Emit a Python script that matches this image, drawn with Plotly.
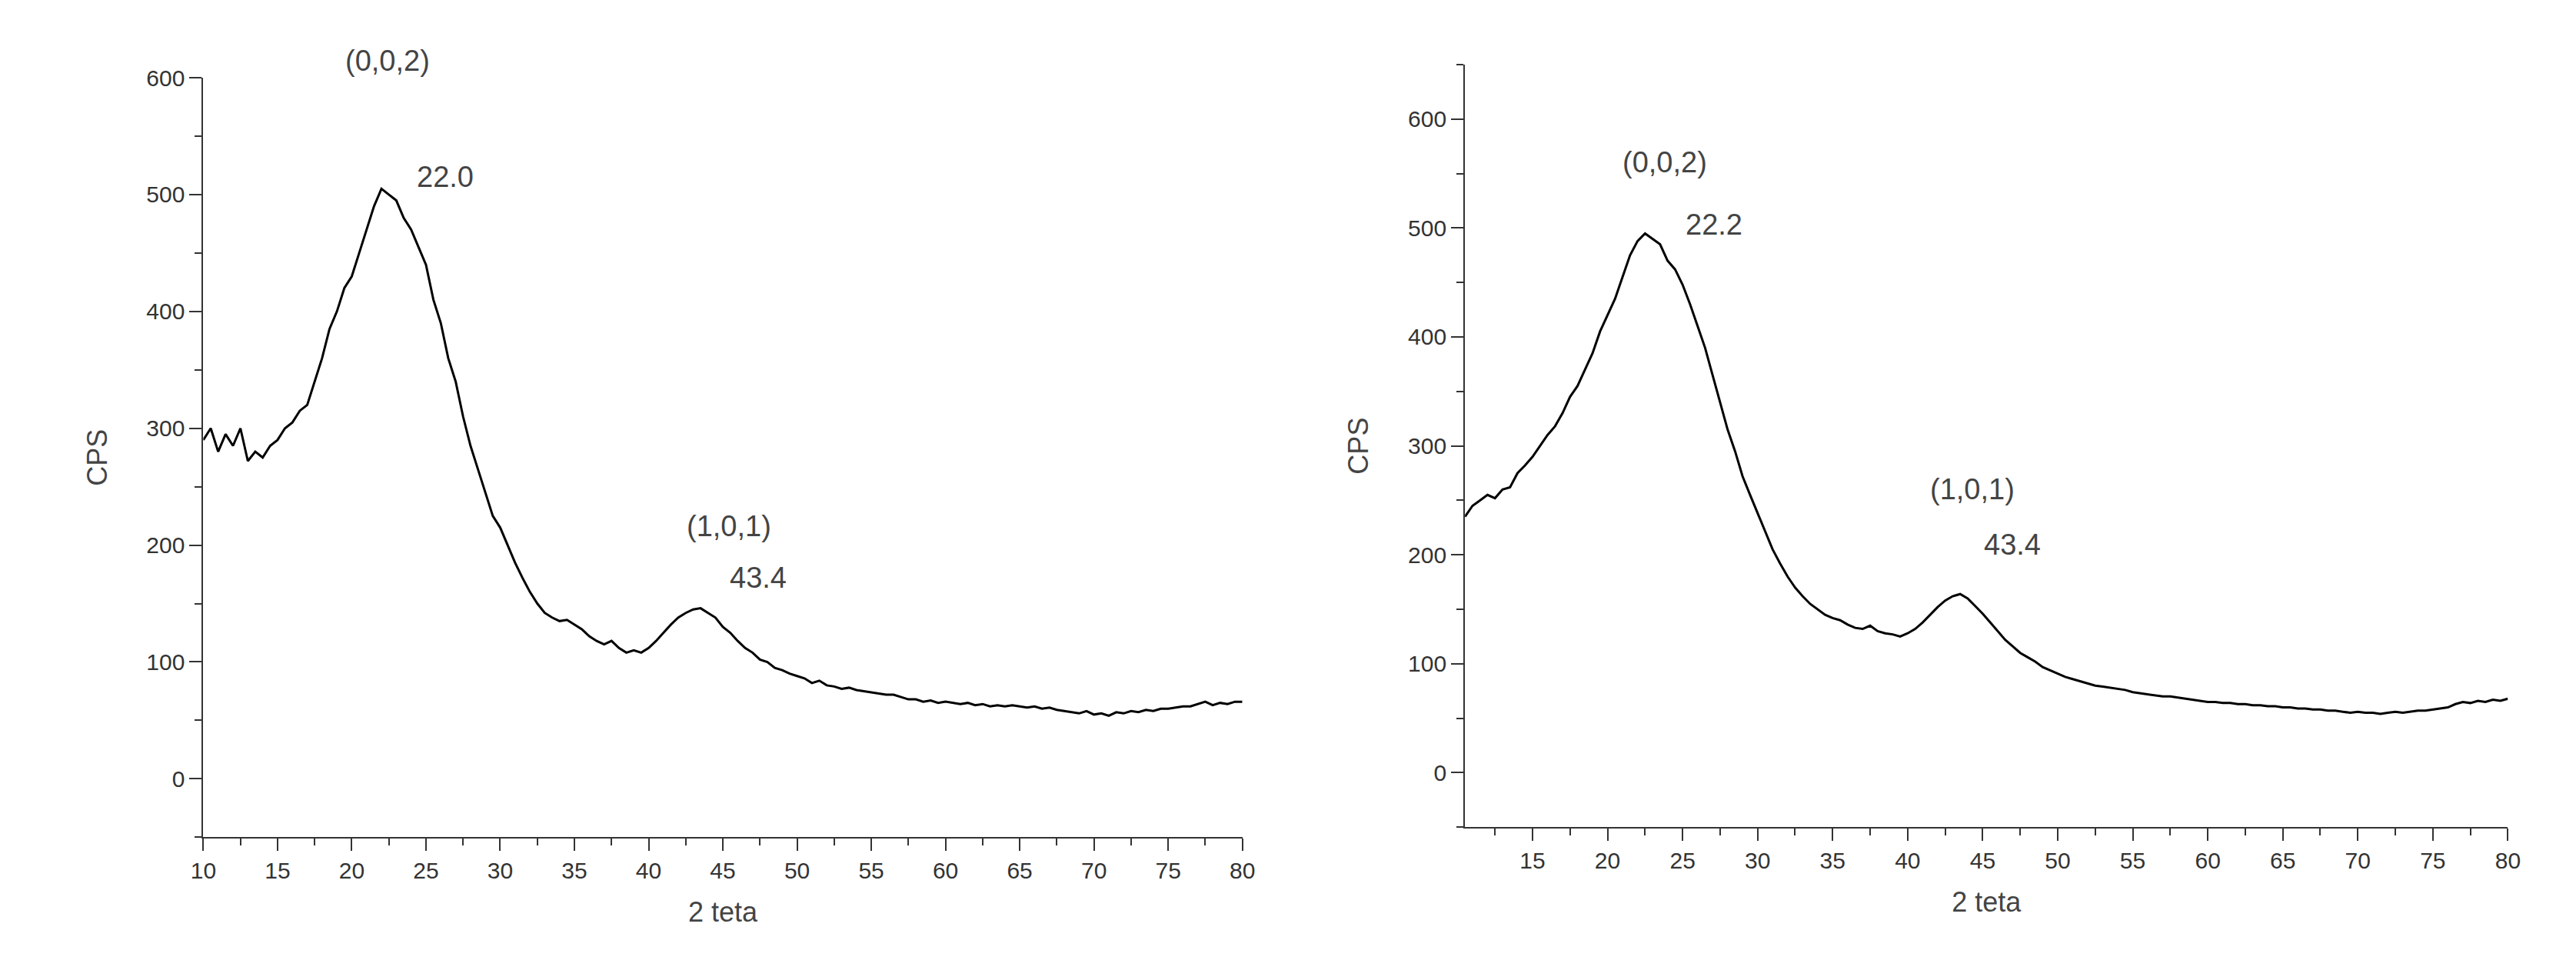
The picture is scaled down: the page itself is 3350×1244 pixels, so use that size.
import numpy as np
import plotly.graph_objects as go

# left pattern, 2 theta 10..80 step 0.5
x_left = np.arange(10, 80.01, 0.5)
cps_left = [290, 300, 280, 295, 285, 300, 272, 280, 275, 285, 290, 300, 305, 315, 320, 340, 360, 385, 400, 420,
            430, 450, 470, 490, 505, 500, 495, 480, 470, 455, 440, 410, 390, 360, 340, 310, 285, 265, 245, 225,
            215, 200, 185, 172, 160, 150, 142, 138, 135, 136, 132, 128, 122, 118, 115, 118, 112, 108, 110, 108,
            112, 118, 125, 132, 138, 142, 145, 146, 142, 138, 130, 125, 118, 112, 108, 102, 100, 95, 93, 90,
            88, 86, 82, 84, 80, 79, 77, 78, 76, 75, 74, 73, 72, 72, 70, 68, 68, 66, 67, 65,
            66, 65, 64, 65, 63, 64, 62, 63, 62, 63, 62, 61, 62, 60, 61, 59, 58, 57, 56, 58,
            55, 56, 54, 57, 56, 58, 57, 59, 58, 60, 60, 61, 62, 62, 64, 66, 63, 65, 64, 66, 66]

# right pattern, 2 theta 10.5..80 step 0.5
x_right = np.arange(10.5, 80.01, 0.5)
cps_right = [235, 245, 250, 255, 252, 260, 262, 275, 282, 290, 300, 310, 318, 330, 345, 355, 370, 385, 405,
             420, 435, 455, 475, 488, 495, 490, 485, 470, 462, 448, 430, 410, 390, 365, 340, 315, 295, 272, 255,
             238, 222, 205, 192, 180, 170, 162, 155, 150, 145, 142, 140, 136, 133, 132, 135, 130, 128, 127, 125,
             128, 132, 138, 145, 152, 158, 162, 164, 160, 153, 146, 138, 130, 122, 116, 110, 106, 102, 97, 94,
             91, 88, 86, 84, 82, 80, 79, 78, 77, 76, 74, 73, 72, 71, 70, 70, 69, 68, 67, 66,
             65, 65, 64, 64, 63, 63, 62, 62, 61, 61, 60, 60, 59, 59, 58, 58, 57, 57, 56, 55,
             56, 55, 55, 54, 55, 56, 55, 56, 57, 57, 58, 59, 60, 63, 65, 64, 66, 65, 67, 66, 68]

labels_left = [("(0,0,2)", 22.4, 600, 22), ("22.0", 26.3, 515, 0), ("(1,0,1)", 45.4, 216, 0), ("43.4", 47.4, 172, 0)]
labels_right = [("(0,0,2)", 23.8, 560, 0), ("22.2", 27.1, 503, 0), ("(1,0,1)", 44.3, 260, 0), ("43.4", 47.0, 209, 0)]

fig = go.Figure()
fig.add_trace(go.Scatter(x=x_left, y=cps_left, mode="lines", line=dict(color="black", width=3),
                         xaxis="x", yaxis="y", showlegend=False))
fig.add_trace(go.Scatter(x=x_right, y=cps_right, mode="lines", line=dict(color="black", width=3),
                         xaxis="x2", yaxis="y2", showlegend=False))

for txt, xx, yy, sh in labels_left:
    fig.add_annotation(x=xx, y=yy, xref="x", yref="y", text=txt, showarrow=False, yshift=sh,
                       font=dict(size=38, color="#444", family="Liberation Sans"))
for txt, xx, yy, sh in labels_right:
    fig.add_annotation(x=xx, y=yy, xref="x2", yref="y2", text=txt, showarrow=False, yshift=sh,
                       font=dict(size=38, color="#444", family="Liberation Sans"))

ax = dict(showgrid=False, zeroline=False, showline=True, linecolor="#333", linewidth=2,
          ticks="outside", ticklen=16, tickwidth=2, tickcolor="#333",
          tickfont=dict(size=30, color="#333", family="Liberation Sans"),
          title_font=dict(size=36, color="#444", family="Liberation Sans"))

fig.update_layout(
    width=3350, height=1244, plot_bgcolor="white", paper_bgcolor="white",
    margin=dict(l=0, r=0, t=0, b=0),
    xaxis=dict(ax, domain=[0.0722, 0.4797], range=[10, 80], dtick=5, anchor="y",
               minor=dict(ticks="outside", ticklen=9, dtick=2.5, tickcolor="#333"),
               title=dict(text="2 teta", standoff=25)),
    yaxis=dict(ax, domain=[0.1334, 0.938], range=[-50, 600], tickvals=[0, 100, 200, 300, 400, 500, 600],
               anchor="x", minor=dict(ticks="outside", ticklen=9, dtick=50, tickcolor="#333"),
               title=dict(text="CPS", standoff=40)),
    xaxis2=dict(ax, domain=[0.567, 0.976], range=[10.5, 80], tickvals=list(range(15, 81, 5)), anchor="y2",
                minor=dict(ticks="outside", ticklen=9, tickvals=[x + 2.5 for x in range(10, 80, 5)], tickcolor="#333"),
                title=dict(text="2 teta", standoff=25)),
    yaxis2=dict(ax, domain=[0.144, 0.952], range=[-50, 650], tickvals=[0, 100, 200, 300, 400, 500, 600],
                anchor="x2", minor=dict(ticks="outside", ticklen=9, tickvals=[-50, 50, 150, 250, 350, 450, 550, 650], tickcolor="#333"),
                title=dict(text="CPS", standoff=40)),
)

fig.write_html("out.html")
